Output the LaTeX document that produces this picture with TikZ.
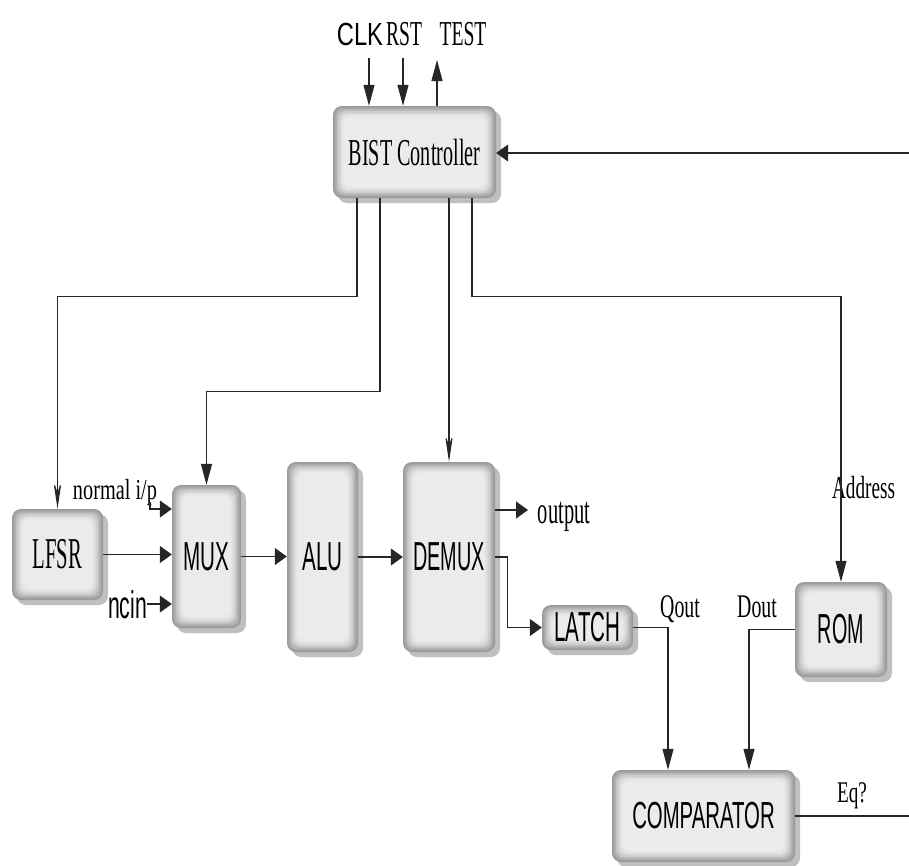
\documentclass[tikz,border=0pt]{standalone}
\usepackage{fontspec}
\setmainfont{Liberation Serif}
\newfontfamily\lsans{Liberation Sans}
\usetikzlibrary{arrows.meta,shadows,calc}
\newcommand{\sq}[2]{\scalebox{#1}[1]{#2}}
\begin{document}
\begin{tikzpicture}[x=1pt,y=-1pt,
  wire/.style={line width=1.1pt, draw=black!85},
  harr/.style={-{Triangle[length=12pt,width=17pt]}},
  varr/.style={-{Triangle[length=21pt,width=11pt]}},
  stl/.style={-{Stealth[length=30pt,width=9pt,inset=14pt]}},
  blk/.style={rounded corners=9pt, fill=black!40, inner sep=0pt,
    drop shadow={shadow xshift=5pt, shadow yshift=-5pt, opacity=0.25, fill=black},
    path picture={
      \foreach \i/\g in {1/35,2/30,3/25,4/20,5/16,6/12,7/10,8/8}{
        \fill[black!\g, rounded corners=8pt]
          ([shift={(\i*1.3pt,-\i*1.3pt)}]path picture bounding box.north west)
          rectangle ([shift={(-\i*1.3pt,\i*1.3pt)}]path picture bounding box.south east);
      }}},
  sf/.style={font=\lsans\fontsize{#1pt}{#1pt}\selectfont},
  rm/.style={font=\fontsize{#1pt}{#1pt}\selectfont},
  lbl/.style={anchor=base, inner sep=0pt}
]
\useasboundingbox (0,0) rectangle (909,865);

% blocks
\node[blk, minimum width=163pt, minimum height=92pt, rm=38] (bist) at (414.5,152) {\sq{0.53}{BIST Controller}};
\node[blk, minimum width=91pt, minimum height=91pt, rm=44] (lfsr) at (57.5,554.5) {\sq{0.47}{LFSR}};
\node[blk, minimum width=69pt, minimum height=143pt, sf=40.5] (mux) at (206.5,556.5) {\sq{0.51}{MUX}};
\node[blk, minimum width=71pt, minimum height=190pt, sf=40.5] (alu) at (322.5,557) {\sq{0.51}{ALU}};
\node[blk, minimum width=92pt, minimum height=190pt, sf=40.5] (demux) at (449,557) {\sq{0.49}{DEMUX}};
\node[blk, minimum width=91pt, minimum height=45pt, sf=42] (latch) at (587.5,627.5) {\sq{0.49}{LATCH}};
\node[blk, minimum width=92pt, minimum height=95pt, sf=42] (rom) at (841,629.5) {\sq{0.47}{ROM}};
\node[blk, minimum width=183pt, minimum height=92pt, sf=37.7] (comp) at (703.5,816) {\sq{0.54}{COMPARATOR}};

% free ends
\coordinate (clk) at (369,58);
\coordinate (rst) at (403,58);
\coordinate (tst) at (437,60);
\coordinate (fb) at (909,153);
\coordinate (b1) at (357,0);
\coordinate (b2) at (380,0);
\coordinate (b4) at (472,0);
\coordinate (nip) at (150,502);
\coordinate (nipy) at (0,509);
\coordinate (nc) at (147,604);
\coordinate (out) at (528,510);
\coordinate (q) at (668,0);
\coordinate (d) at (749,0);
\coordinate (eq) at (909,0);

% labels
\node[lbl, sf=32] (lclk) at (360,45) {\sq{0.74}{CLK}};
\node[lbl, rm=35] (lrst) at (404,45) {\sq{0.56}{RST}};
\node[lbl, rm=35] (ltst) at (463,45) {\sq{0.56}{TEST}};
\node[lbl, rm=29] (lnip) at (115,499) {\sq{0.7}{normal i/p}};
\node[lbl, sf=38.5] (lnc) at (127.5,618) {\sq{0.55}{ncin}};
\node[lbl, rm=38] (lout) at (564,523) {\sq{0.54}{output}};
\node[lbl, rm=33] (lq) at (680,617) {\sq{0.6}{Qout}};
\node[lbl, rm=33] (ld) at (757,617) {\sq{0.6}{Dout}};
\node[lbl, rm=32] (laddr) at (863.5,498) {\sq{0.6}{Address}};
\node[lbl, rm=30] (leq) at (852,802) {\sq{0.64}{Eq?}};

% connectors
\draw[wire, varr] (clk) -- (clk |- bist.north);
\draw[wire, varr] (rst) -- (rst |- bist.north);
\draw[wire, varr] (tst |- bist.north) -- (tst);
\draw[wire, harr] (fb) -- (fb -| bist.east);
\draw[wire, stl] (b1 |- bist.south) -- ++(0,98) -| (lfsr.north);
\draw[wire, varr] (b2 |- bist.south) -- ++(0,193) -| (mux.north);
\draw[wire, stl] (bist.south -| demux.north) -- (demux.north);
\draw[wire, varr] (b4 |- bist.south) -- ++(0,98) -| (rom.north);
\draw[wire, harr] (lfsr.east) -- (mux.west |- lfsr.east);
\draw[wire, harr] (nip) |- (mux.west |- nipy);
\draw[wire, harr] (nc) -- (nc -| mux.west);
\draw[wire, harr] (mux.east) -- (alu.west |- mux.east);
\draw[wire, harr] (alu.east) -- (demux.west |- alu.east);
\draw[wire, harr] (out -| demux.east) -- (out);
\draw[wire, harr] (demux.east) -- ++(12,0) |- (latch.west);
\draw[wire, varr] (latch.east) -| (q |- comp.north);
\draw[wire, varr] (rom.west) -| (d |- comp.north);
\draw[wire] (comp.east) -- (eq |- comp.east);
\end{tikzpicture}
\end{document}
